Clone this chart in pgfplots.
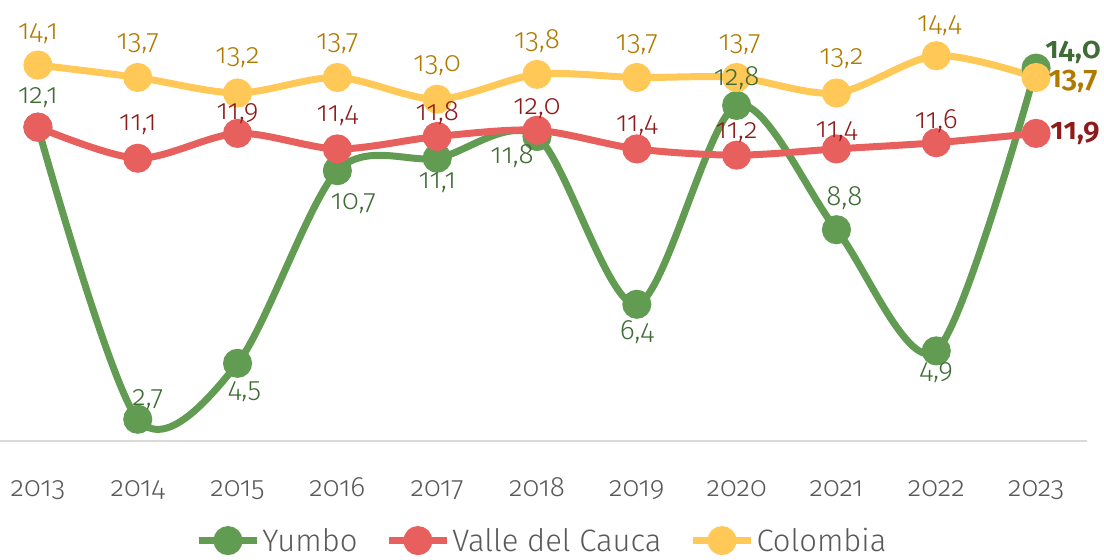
\documentclass[border=0pt]{standalone}
\usepackage{pgfplots}
\pgfplotsset{compat=1.18}
\usepackage{pgfplotstable}
\usepackage{fontspec}
\setmainfont{Fira Sans Light}[Numbers=OldStyle, BoldFont={Fira Sans SemiBold}]
\definecolor{cg}{HTML}{629B52}
\definecolor{cgt}{HTML}{3F6B35}
\definecolor{cr}{HTML}{E8605D}
\definecolor{crt}{HTML}{8E1B1B}
\definecolor{cy}{HTML}{FFC857}
\definecolor{cyt}{HTML}{B07A00}
\definecolor{axc}{HTML}{D9D9D9}
\definecolor{tk}{HTML}{595959}
\newcommand{\bl}[1]{{\fontsize{30}{32}\selectfont\bfseries #1}}

\pgfplotstableread{
x y lab dx dy
2013 12.1 12,1 0 30
2014 2.7 2,7 10 20
2015 4.5 4,5 7 -28
2016 10.7 10,7 16 -33
2017 11.1 11,1 0 -24
2018 11.8 11,8 -25 -20
2019 6.4 6,4 0 -28
2020 12.8 12,8 0 27
2021 8.8 8,8 8 32
2022 4.9 4,9 0 -22
2023 14.0 {\bl{14,0}} 37 16
}\yumbo
\pgfplotstableread{
x y lab dx dy
2013 12.1 {} 0 30
2014 11.1 11,1 0 34
2015 11.9 11,9 0 20
2016 11.4 11,4 0 33
2017 11.8 11,8 0 23
2018 12.0 12,0 0 22
2019 11.4 11,4 0 23
2020 11.2 11,2 0 23
2021 11.4 11,4 0 17
2022 11.6 11,6 0 22
2023 11.9 {\bl{11,9}} 39 0
}\valle
\pgfplotstableread{
x y lab dx dy
2013 14.1 14,1 0 31
2014 13.7 13,7 0 34
2015 13.2 13,2 0 35
2016 13.7 13,7 0 34
2017 13.0 13,0 0 34
2018 13.8 13,8 0 33
2019 13.7 13,7 0 33
2020 13.7 13,7 3 33
2021 13.2 13,2 5 34
2022 14.4 14,4 3 30
2023 13.7 {\bl{13,7}} 37 -4
}\colombia

\begin{document}
\begin{tikzpicture}
\begin{axis}[
  at={(0pt,119pt)}, anchor=south west,
  scale only axis, width=1087pt, height=435pt,
  xmin=2012.62, xmax=2023.51, ymin=2, ymax=16,
  clip=false,
  axis x line=bottom, axis y line=none,
  x axis line style={draw=axc, line width=1.5pt, -},
  major tick length=0pt,
  xtick={2013,2014,2015,2016,2017,2018,2019,2020,2021,2022,2023},
  xticklabels={2013,2014,2015,2016,2017,2018,2019,2020,2021,2022,2023},
  xticklabel style={anchor=center, yshift=-49pt, text height=19pt, text depth=7pt, text=tk, font=\fontsize{28}{30}\selectfont},
  point meta=explicit symbolic,
  visualization depends on={\thisrow{dx} \as \ldx},
  visualization depends on={\thisrow{dy} \as \ldy},
  every node near coord/.append style={anchor=center, xshift=\ldx pt, yshift=\ldy pt, font=\fontsize{28}{30}\selectfont, inner sep=0pt},
  legend style={at={(0.4986,-0.229)}, anchor=center, draw=none, fill=none,
    font=\fontsize{31}{33}\selectfont, text=tk,
    /tikz/every even column/.append style={column sep=26pt},
    nodes={inner xsep=2pt, inner ysep=1pt}},
  legend columns=3,
  legend image code/.code={\draw[#1, mark repeat=2, mark phase=2] plot coordinates {(0pt,0pt) (29pt,0pt) (58pt,0pt)};},
  lbl/.style={draw=none, mark=none, forget plot, nodes near coords},
]
\addplot[smooth, cg, line width=7pt, mark=*, mark size=11pt, mark options={draw=none, fill=cg}] table[x=x, y=y] {\yumbo};
\addlegendentry{Yumbo}
\addplot[smooth, cr, line width=7pt, mark=*, mark size=11pt, mark options={draw=none, fill=cr}] table[x=x, y=y] {\valle};
\addlegendentry{Valle del Cauca}
\addplot[smooth, cy, line width=7pt, mark=*, mark size=11pt, mark options={draw=none, fill=cy}] table[x=x, y=y] {\colombia};
\addlegendentry{Colombia}
\addplot[lbl, every node near coord/.append style={text=cgt}] table[x=x, y=y, meta=lab] {\yumbo};
\addplot[lbl, every node near coord/.append style={text=crt}] table[x=x, y=y, meta=lab] {\valle};
\addplot[lbl, every node near coord/.append style={text=cyt}] table[x=x, y=y, meta=lab] {\colombia};
\end{axis}
\pgfresetboundingbox
\path (0pt,0pt) rectangle (1104pt,560pt);
\end{tikzpicture}
\end{document}
